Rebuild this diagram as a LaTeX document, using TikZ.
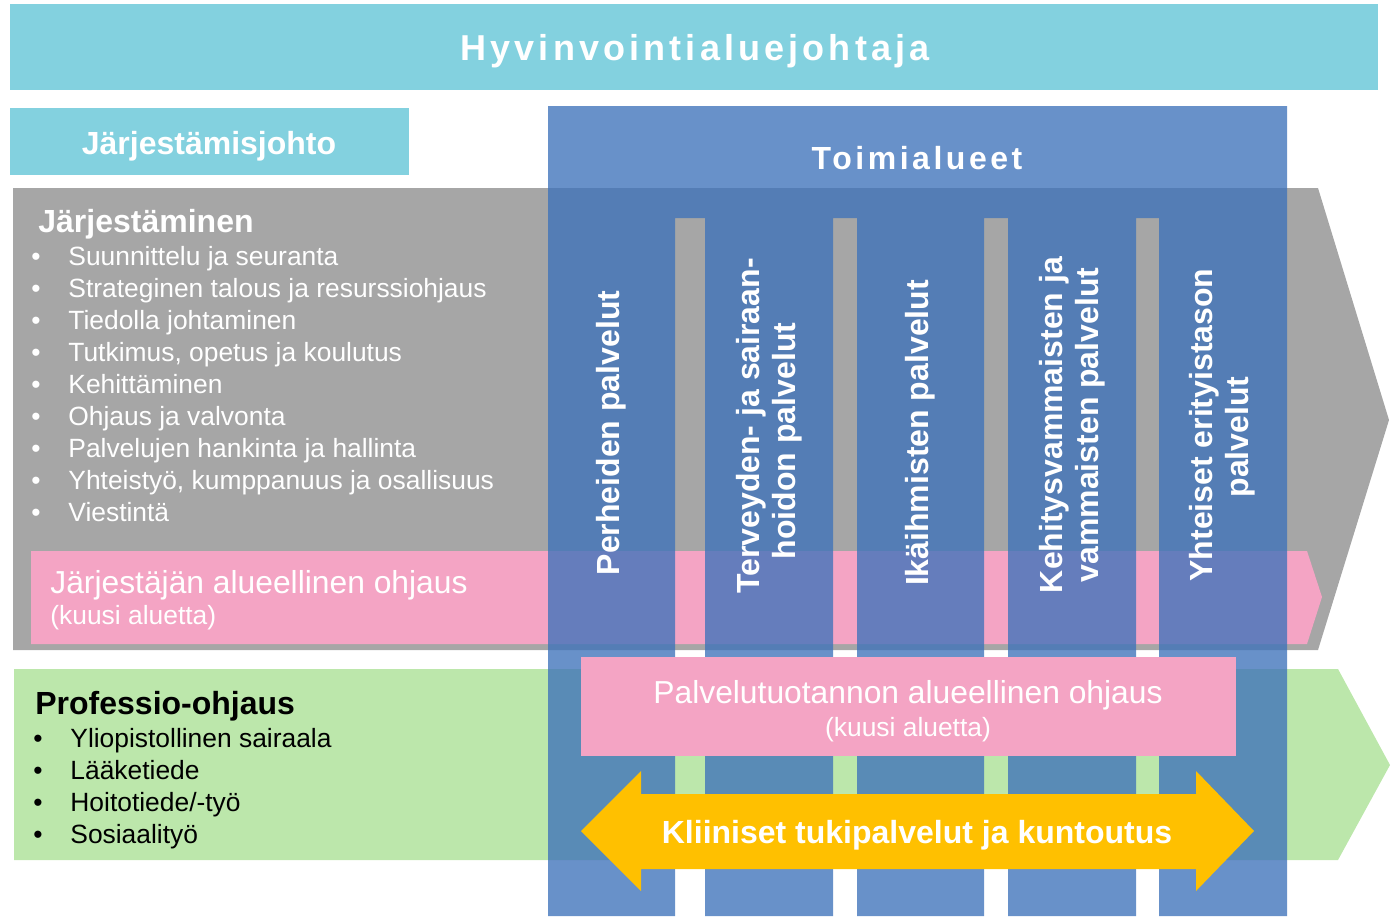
\documentclass[tikz,border=0pt]{standalone}
\usepackage{fontspec}
\setmainfont{Liberation Sans}
\newfontfamily\spacedfont[LetterSpace=11.5]{Liberation Sans}
\newfontfamily\narrowspacedfont[LetterSpace=11]{Liberation Sans}
\usetikzlibrary{positioning}
\definecolor{hdrcyan}{RGB}{131,209,223}
\definecolor{arrgray}{RGB}{166,166,166}
\definecolor{regpink}{RGB}{244,164,196}
\definecolor{profgreen}{RGB}{188,231,171}
\definecolor{toiblue}{RGB}{63,115,186}
\definecolor{supyellow}{RGB}{255,192,0}
\tikzset{
  lbl/.style={inner sep=0pt, text=white},
  toptxt/.style={lbl, anchor=base,
    font=\spacedfont\fontsize{18}{21}\selectfont\bfseries},
  boxtxt/.style={lbl, anchor=base,
    font=\fontsize{16}{19}\selectfont\bfseries},
  headtxt/.style={lbl, anchor=base west,
    font=\fontsize{16}{19}\selectfont\bfseries},
  bigtxt/.style={lbl, font=\fontsize{15.9}{19}\selectfont},
  itemtxt/.style={lbl, anchor=base west,
    font=\fontsize{13.2}{16}\selectfont},
  dottxt/.style={lbl, anchor=base,
    font=\fontsize{13.2}{16}\selectfont},
  coltxt/.style={lbl, rotate=90, align=center,
    font=\fontsize{16}{18}\selectfont\bfseries}
}

\begin{document}
\begin{tikzpicture}[x=0.5pt,y=-0.5pt]
\useasboundingbox (0,0) rectangle (1392,916);

\fill[hdrcyan] (10,4) rectangle (1378,90);
\fill[hdrcyan] (10,108) rectangle (409,175);
\fill[arrgray] (13,188) -- (1318,188) -- (1389,420) -- (1318,650)
  -- (13,650) -- cycle;
\fill[regpink] (31,551) -- (1307,551) -- (1322,597) -- (1307,644)
  -- (31,644) -- cycle;
\fill[profgreen] (14,669) -- (1338,669) -- (1390,765) -- (1338,860)
  -- (14,860) -- cycle;

\fill[toiblue, fill opacity=0.79] (548,106) rectangle (1287,218)
  (548,218) rectangle (675,916) (705,218) rectangle (833,916)
  (857,218) rectangle (984,916) (1008,218) rectangle (1136,916)
  (1159,218) rectangle (1287,916);

\fill[regpink] (581,657) rectangle (1236,756);
\fill[supyellow] (581,831) -- (641,771) -- (641,794) -- (1196,794)
  -- (1196,771) -- (1254,831) -- (1196,891) -- (1196,869)
  -- (641,869) -- (641,891) -- cycle;

\node[toptxt] (hyvinvointi) at (695,60) {Hyvinvointialuejohtaja};
\node[boxtxt] (jarjjohto) at (209,154) {Järjestämisjohto};
\node[toptxt, font=\narrowspacedfont\fontsize{16}{19}\selectfont\bfseries]
  (toimialueet) at (917,169) {Toimialueet};

\node[headtxt] (jarjestaminen) at (38,232) {Järjestäminen};
\foreach \itm [count=\i] in {Suunnittelu ja seuranta,
    Strateginen talous ja resurssiohjaus, Tiedolla johtaminen,
    {Tutkimus, opetus ja koulutus}, Kehittäminen, Ohjaus ja valvonta,
    Palvelujen hankinta ja hallinta,
    {Yhteistyö, kumppanuus ja osallisuus}, Viestintä}{
  \node[dottxt] (jdot\i) at (36,{233+32*\i}) {\textbullet};
  \node[itemtxt] (jitem\i) at (68,{233+32*\i}) {\itm};
}

\node[bigtxt, anchor=base west] (jarjohjaus) at (50,593)
  {Järjestäjän alueellinen ohjaus};
\node[itemtxt] (jarjalueet) at (50,624) {(kuusi aluetta)};

\node[headtxt, text=black] (professio) at (35,714) {Professio-ohjaus};
\foreach \itm [count=\i] in {Yliopistollinen sairaala, Lääketiede,
    Hoitotiede/-työ, Sosiaalityö}{
  \node[dottxt, text=black] (pdot\i) at (38,{715+32*\i}) {\textbullet};
  \node[itemtxt, text=black] (pitem\i) at (70,{715+32*\i}) {\itm};
}

\node[coltxt] (perheet) at (611.5,433) {Perheiden palvelut};
\node[coltxt] (terveys) at (769,426)
  {Terveyden- ja sairaan-\\hoidon palvelut\rule{15pt}{0pt}};
\node[coltxt] (ikaihmiset) at (920.5,433) {Ikäihmisten palvelut};
\node[coltxt] (vammaiset) at (1072,425)
  {Kehitysvammaisten ja\\vammaisten palvelut};
\node[coltxt] (yhteiset) at (1222.5,425)
  {Yhteiset erityistason\\palvelut\rule{12pt}{0pt}};

\node[bigtxt, anchor=base] (palvohjaus) at (908,703)
  {Palvelutuotannon alueellinen ohjaus};
\node[dottxt] (palvalueet) at (908,736) {(kuusi aluetta)};

\node[boxtxt] (kliiniset) at (917,843) {Kliiniset tukipalvelut ja kuntoutus};
\end{tikzpicture}
\end{document}
